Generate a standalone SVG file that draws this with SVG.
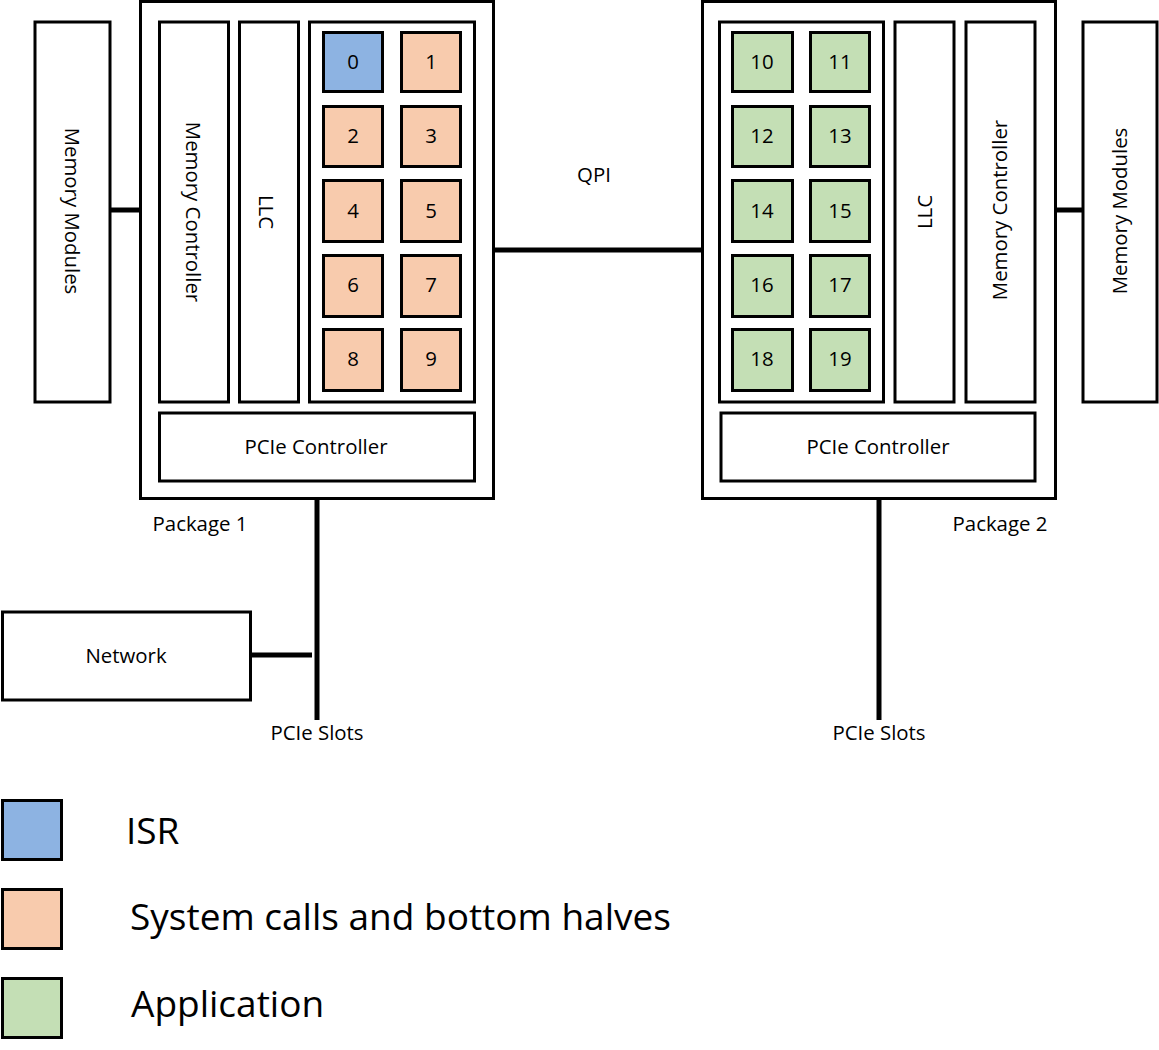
<svg xmlns="http://www.w3.org/2000/svg" width="1159" height="1050" viewBox="0 0 1159 1050">
<style>
.box{fill:#fff;stroke:#000;stroke-width:3}
.isr{fill:#8DB3E2;stroke:#000;stroke-width:3}
.sys{fill:#F8CBAD;stroke:#000;stroke-width:3}
.app{fill:#C4DFB5;stroke:#000;stroke-width:3}
.t{font-family:"Open Sans","Noto Sans",sans-serif;font-size:20.4px;fill:#000;text-anchor:middle}
.leg{font-family:"Open Sans","Noto Sans",sans-serif;font-size:37px;fill:#000}
.con{stroke:#000;stroke-width:5;fill:none}
</style>
<rect width="1159" height="1050" fill="#fff"/>
<g id="connectors">
<line class="con" x1="110" y1="210" x2="159" y2="210"/>
<line class="con" x1="1035" y1="210" x2="1083" y2="210"/>
<line class="con" x1="493" y1="250" x2="702" y2="250"/>
<line class="con" x1="317" y1="482" x2="317" y2="720"/>
<line class="con" x1="251" y1="655" x2="312" y2="655"/>
<line class="con" x1="879" y1="482" x2="879" y2="720"/>
</g>
<g id="memmod1"><rect class="box" x="35" y="22" width="75" height="380"/><text class="t" transform="translate(72,211) rotate(90)" dy="0.35em">Memory Modules</text></g>
<g id="package1"><rect class="box" x="140.5" y="1.5" width="353" height="497"/><text class="t" x="200" y="531">Package 1</text></g>
<g id="memctl1"><rect class="box" x="159.5" y="22" width="69" height="380"/><text class="t" transform="translate(193,212) rotate(90)" dy="0.35em">Memory Controller</text></g>
<g id="llc1"><rect class="box" x="239.5" y="22" width="59" height="380"/><text class="t" transform="translate(266,212) rotate(90)" dy="0.35em">LLC</text></g>
<g id="cores1"><rect class="box" x="309.5" y="22" width="165" height="380"/></g>
<g id="core0"><rect class="isr" x="323.5" y="32.5" width="59" height="59"/><text class="t" x="353" y="62" dy="0.35em">0</text></g>
<g id="core1"><rect class="sys" x="401.5" y="32.5" width="59" height="59"/><text class="t" x="431" y="62" dy="0.35em">1</text></g>
<g id="core2"><rect class="sys" x="323.5" y="106.5" width="59" height="60"/><text class="t" x="353" y="136" dy="0.35em">2</text></g>
<g id="core3"><rect class="sys" x="401.5" y="106.5" width="59" height="60"/><text class="t" x="431" y="136" dy="0.35em">3</text></g>
<g id="core4"><rect class="sys" x="323.5" y="180.5" width="59" height="61"/><text class="t" x="353" y="211" dy="0.35em">4</text></g>
<g id="core5"><rect class="sys" x="401.5" y="180.5" width="59" height="61"/><text class="t" x="431" y="211" dy="0.35em">5</text></g>
<g id="core6"><rect class="sys" x="323.5" y="255.5" width="59" height="61"/><text class="t" x="353" y="285" dy="0.35em">6</text></g>
<g id="core7"><rect class="sys" x="401.5" y="255.5" width="59" height="61"/><text class="t" x="431" y="285" dy="0.35em">7</text></g>
<g id="core8"><rect class="sys" x="323.5" y="329.5" width="59" height="61"/><text class="t" x="353" y="359" dy="0.35em">8</text></g>
<g id="core9"><rect class="sys" x="401.5" y="329.5" width="59" height="61"/><text class="t" x="431" y="359" dy="0.35em">9</text></g>
<g id="pcie1"><rect class="box" x="159.5" y="413" width="315" height="68"/><text class="t" x="316" y="447" dy="0.35em">PCIe Controller</text></g>
<g id="network"><rect class="box" x="2.5" y="612" width="248" height="88"/><text class="t" x="126" y="656" dy="0.35em">Network</text></g>
<g id="slots1"><text class="t" x="317" y="740">PCIe Slots</text></g>
<g id="qpi"><text class="t" x="594" y="182">QPI</text></g>
<g id="package2"><rect class="box" x="702.5" y="1.5" width="353" height="497"/><text class="t" x="1000" y="531">Package 2</text></g>
<g id="cores2"><rect class="box" x="719.5" y="22" width="164" height="380"/></g>
<g id="core10"><rect class="app" x="732.5" y="32.5" width="60" height="59"/><text class="t" x="762" y="62" dy="0.35em">10</text></g>
<g id="core11"><rect class="app" x="810.5" y="32.5" width="59" height="59"/><text class="t" x="840" y="62" dy="0.35em">11</text></g>
<g id="core12"><rect class="app" x="732.5" y="106.5" width="60" height="60"/><text class="t" x="762" y="136" dy="0.35em">12</text></g>
<g id="core13"><rect class="app" x="810.5" y="106.5" width="59" height="60"/><text class="t" x="840" y="136" dy="0.35em">13</text></g>
<g id="core14"><rect class="app" x="732.5" y="180.5" width="60" height="61"/><text class="t" x="762" y="211" dy="0.35em">14</text></g>
<g id="core15"><rect class="app" x="810.5" y="180.5" width="59" height="61"/><text class="t" x="840" y="211" dy="0.35em">15</text></g>
<g id="core16"><rect class="app" x="732.5" y="255.5" width="60" height="61"/><text class="t" x="762" y="285" dy="0.35em">16</text></g>
<g id="core17"><rect class="app" x="810.5" y="255.5" width="59" height="61"/><text class="t" x="840" y="285" dy="0.35em">17</text></g>
<g id="core18"><rect class="app" x="732.5" y="329.5" width="60" height="61"/><text class="t" x="762" y="359" dy="0.35em">18</text></g>
<g id="core19"><rect class="app" x="810.5" y="329.5" width="59" height="61"/><text class="t" x="840" y="359" dy="0.35em">19</text></g>
<g id="llc2"><rect class="box" x="895" y="22" width="59" height="380"/><text class="t" transform="translate(925,212) rotate(-90)" dy="0.35em">LLC</text></g>
<g id="memctl2"><rect class="box" x="966" y="22" width="69" height="380"/><text class="t" transform="translate(1000,210) rotate(-90)" dy="0.35em">Memory Controller</text></g>
<g id="memmod2"><rect class="box" x="1083" y="22" width="74" height="380"/><text class="t" transform="translate(1120,211) rotate(-90)" dy="0.35em">Memory Modules</text></g>
<g id="pcie2"><rect class="box" x="721" y="413" width="314" height="68"/><text class="t" x="878" y="447" dy="0.35em">PCIe Controller</text></g>
<g id="slots2"><text class="t" x="879" y="740">PCIe Slots</text></g>
<g id="legend">
<rect class="isr" x="2.5" y="800.5" width="59" height="59"/>
<rect class="sys" x="2.5" y="889.5" width="59" height="59"/>
<rect class="app" x="2.5" y="978.5" width="59" height="59"/>
<text class="leg" x="126" y="844">ISR</text>
<text class="leg" x="130" y="930">System calls and bottom halves</text>
<text class="leg" x="131" y="1017">Application</text>
</g>
</svg>
